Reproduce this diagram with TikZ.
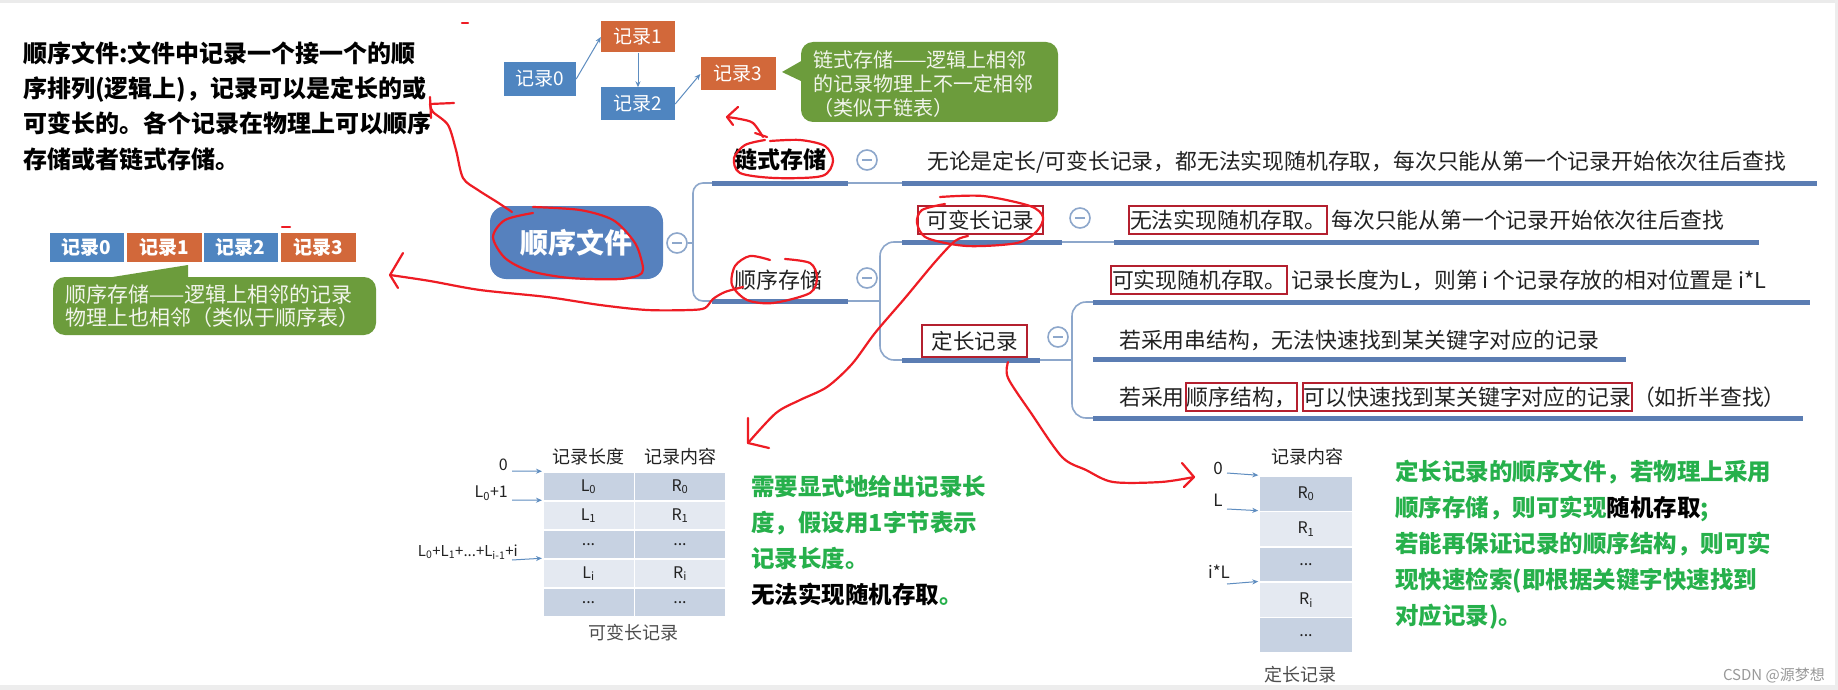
\documentclass[tikz,border=0pt]{standalone}
\usepackage{fontspec}
\setmainfont{Noto Sans CJK SC}
\usetikzlibrary{arrows.meta}
\definecolor{boxblue}{HTML}{4F85C0}
\definecolor{boxorange}{HTML}{D2683A}
\definecolor{cgreen}{HTML}{6C9C3C}
\definecolor{calltext}{HTML}{F2F5EC}
\definecolor{textgray}{HTML}{222222}
\definecolor{connblue}{HTML}{8DA7CB}
\definecolor{barblue}{HTML}{5B7DB3}
\definecolor{centerblue}{HTML}{5681BE}
\definecolor{arrowblue}{HTML}{5E8DC0}
\definecolor{boxred}{HTML}{B4202F}
\definecolor{penred}{HTML}{EE1C24}
\definecolor{tgreen}{HTML}{26B04B}
\definecolor{celldark}{HTML}{C7D2E2}
\definecolor{celllight}{HTML}{E4E9F1}
\newcommand\myfs[2]{\fontsize{#1}{#2}\selectfont}
\begin{document}
\begin{tikzpicture}[x=1pt,y=-1pt,
  recbox/.style={inner sep=0, text=white, font=\myfs{19}{19}},
  bluebox/.style={recbox, fill=boxblue},
  orangebox/.style={recbox, fill=boxorange},
  sarrow/.style={draw=arrowblue, line width=1pt, -{Stealth[length=6pt,width=5pt]}},
  bar/.style={draw=barblue, line width=5pt},
  conn/.style={draw=connblue, line width=1.6pt},
  collapse/.style={circle, draw=connblue, line width=1.6pt, fill=white, minimum size=20pt, inner sep=0,
    path picture={\draw[connblue, line width=1.6pt] ([xshift=-5pt]path picture bounding box.center) -- ([xshift=5pt]path picture bounding box.center);}},
  mmtext/.style={inner sep=0, anchor=west, font=\myfs{21.8}{21.8}, text=textgray},
  redbox/.style={draw=boxred, line width=2pt, inner xsep=1pt, inner ysep=4pt, anchor=west, font=\myfs{21.8}{21.8}, text=textgray},
  pen/.style={draw=penred, line width=2.2pt, line cap=round, line join=round},
  cell/.style={draw=white, line width=1.5pt, inner sep=0, font=\myfs{16}{16}, text=textgray},
  darkcell/.style={cell, fill=celldark},
  lightcell/.style={cell, fill=celllight},
  gtext/.style={anchor=west, inner sep=0, align=left, text=tgreen, font=\bfseries\myfs{23.5}{36}}
]
\useasboundingbox (0,0) rectangle (1838,690);
\fill[white] (0,0) rectangle (1838,690);
\fill[black!8] (0,0) rectangle (1838,3);
\fill[black!7] (0,685) rectangle (1838,690);
\fill[black!7] (1835,0) rectangle (1838,690);

% top-left description
\node[anchor=west, inner sep=0, align=left, font=\bfseries\myfs{24}{35.3}] (desc) at (23,106)
  {顺序文件:文件中记录一个接一个的顺\\序排列(逻辑上)，记录可以是定长的或\\可变长的。各个记录在物理上可以顺序\\存储或者链式存储。};

% linked storage example
\node[bluebox, minimum width=72pt, minimum height=34pt] (r0) at (540,79) {记录0};
\node[orangebox, minimum width=74pt, minimum height=31pt] (r1) at (638,37) {记录1};
\node[bluebox, minimum width=74pt, minimum height=33pt] (r2) at (638,104) {记录2};
\node[orangebox, minimum width=75pt, minimum height=33pt] (r3) at (738,74) {记录3};
\draw[sarrow] (r0.east) -- (r1.west);
\draw[sarrow] (r1.south) -- (r2.north);
\draw[sarrow] (r2.east) -- (r3.west);
\node[fill=cgreen, rounded corners=12pt, minimum width=257pt, minimum height=80pt, inner sep=0] (linkcall) at (929.5,82) {};
\fill[cgreen] (803,60) -- (782,72) -- (803,82) -- cycle;
\node[anchor=west, inner sep=0, align=left, text=calltext, font=\myfs{20}{24}] (linktext) at (813,84)
  {链式存储——逻辑上相邻\\的记录物理上不一定相邻\\（类似于链表）};

% sequential storage example
\node[bluebox, font=\bfseries\myfs{19}{19}, minimum width=74pt, minimum height=29pt] (s0) at (86.5,247.5) {记录0};
\node[orangebox, font=\bfseries\myfs{19}{19}, minimum width=75pt, minimum height=29pt] (s1) at (164,247.5) {记录1};
\node[bluebox, font=\bfseries\myfs{19}{19}, minimum width=74pt, minimum height=29pt] (s2) at (240.5,247.5) {记录2};
\node[orangebox, font=\bfseries\myfs{19}{19}, minimum width=75pt, minimum height=29pt] (s3) at (318,247.5) {记录3};
\node[fill=cgreen, rounded corners=12pt, minimum width=323pt, minimum height=58pt, inner sep=0] (seqcall) at (214.5,306) {};
\fill[cgreen] (100,279) -- (188,265) -- (188,279) -- cycle;
\node[anchor=west, inner sep=0, align=left, text=calltext, font=\myfs{21}{23}] (seqtext) at (65,306.5)
  {顺序存储——逻辑上相邻的记录\\物理上也相邻（类似于顺序表）};

% mind map
\node[fill=centerblue, rounded corners=16pt, minimum width=173pt, minimum height=73pt, inner sep=0, text=white, font=\bfseries\myfs{28}{28}] (root) at (576.5,242.5) {顺序文件};
\node[collapse] (c0) at (677,243) {};
\coordinate (br0) at (693,243);
\draw[conn] (c0.east) -- (br0);
\draw[conn, rounded corners=10pt] (712,183) -| (693,301) -- (712,301);

\node[inner sep=0, font=\bfseries\myfs{23}{23}] (lian) at (780,160) {链式存储};
\node[collapse] (c1) at (867,160) {};
\coordinate (b1s) at (712,183); \coordinate (b1e) at (848,183);
\coordinate (t1s) at (902,183); \coordinate (t1e) at (1817,183);
\draw[bar] (b1s) -- (b1e);
\draw[conn] (b1e) -- (t1s);
\draw[bar] (t1s) -- (t1e);
\node[mmtext] (t1) at (927,162) {无论是定长/可变长记录，都无法实现随机存取，每次只能从第一个记录开始依次往后查找};

\node[inner sep=0, font=\myfs{22}{22}, text=textgray] (shun) at (778,280) {顺序存储};
\node[collapse] (c2) at (867,278) {};
\coordinate (b2s) at (712,301); \coordinate (b2e) at (848,301); \coordinate (br2) at (880,301);
\draw[bar] (b2s) -- (b2e);
\draw[conn] (b2e) -- (br2);
\draw[conn, rounded corners=14pt] (902,242) -| (880,360) -- (902,360);

\node[redbox, anchor=center, minimum width=125pt, minimum height=26pt, font=\myfs{21.5}{21.5}] (kbian) at (980.5,220) {可变长记录};
\node[collapse] (c3) at (1080,218) {};
\coordinate (b3s) at (902,242); \coordinate (b3e) at (1062,242);
\coordinate (t2s) at (1114,242); \coordinate (t2e) at (1759,242);
\draw[bar] (b3s) -- (b3e);
\draw[conn] (b3e) -- (t2s);
\draw[bar] (t2s) -- (t2e);
\node[redbox] (t2a) at (1128,220) {无法实现随机存取。};
\node[mmtext] (t2b) at ([xshift=3pt]t2a.east) {每次只能从第一个记录开始依次往后查找};

\node[redbox, anchor=center, minimum width=105pt, minimum height=32pt, font=\myfs{21.5}{21.5}] (ding) at (974.5,341) {定长记录};
\node[collapse] (c4) at (1058,337) {};
\coordinate (b4s) at (902,360); \coordinate (b4e) at (1040,360); \coordinate (br4) at (1072,360);
\draw[bar] (b4s) -- (b4e);
\draw[conn] (b4e) -- (br4);
\draw[conn, rounded corners=14pt] (1093,302) -| (1072,418) -- (1093,418);
\draw[bar] (1093,302) -- (1810,302);
\draw[bar] (1093,359) -- (1626,359);
\draw[bar] (1093,418) -- (1803,418);
\node[redbox] (t3a) at (1110,280) {可实现随机存取。};
\node[mmtext] (t3b) at ([xshift=3pt]t3a.east) {记录长度为L，则第 i 个记录存放的相对位置是 i*L};
\node[mmtext] (t4) at (1119,340) {若采用串结构，无法快速找到某关键字对应的记录};
\node[mmtext] (t5a) at (1119,397) {若采用};
\node[redbox] (t5b) at (t5a.east) {顺序结构，};
\node[redbox] (t5c) at ([xshift=4pt]t5b.east) {可以快速找到某关键字对应的记录};
\node[mmtext] (t5d) at (t5c.east) {（如折半查找）};

% variable length table
\node[inner sep=0, font=\myfs{18}{18}, text=textgray] (hL) at (588,457) {记录长度};
\node[inner sep=0, font=\myfs{18}{18}, text=textgray] (hR) at (680,457) {记录内容};
\begin{scope}[every node/.append style={minimum width=91.5pt, minimum height=29pt}]
\node[darkcell] (L0) at (588.5,486.5) {L\textsubscript{0}};
\node[darkcell] (R0) at (680,486.5) {R\textsubscript{0}};
\node[lightcell] (L1) at (588.5,515.5) {L\textsubscript{1}};
\node[lightcell] (R1) at (680,515.5) {R\textsubscript{1}};
\node[darkcell] (L2) at (588.5,544.5) {...};
\node[darkcell] (R2) at (680,544.5) {...};
\node[lightcell] (Li) at (588.5,573.5) {L\textsubscript{i}};
\node[lightcell] (Ri) at (680,573.5) {R\textsubscript{i}};
\node[darkcell] (L4) at (588.5,602.5) {...};
\node[darkcell] (R4) at (680,602.5) {...};
\end{scope}
\node[anchor=east, inner sep=0, font=\myfs{16}{16}, text=textgray] (la0) at (508,465) {0};
\node[anchor=east, inner sep=0, font=\myfs{16}{16}, text=textgray] (la1) at (508,493) {L\textsubscript{0}+1};
\node[anchor=east, inner sep=0, font=\myfs{15}{15}, text=textgray] (la2) at (518,552) {L\textsubscript{0}+L\textsubscript{1}+...+L\textsubscript{i-1}+i};
\coordinate (aL0) at (512,471); \coordinate (aL1) at (512,500); \coordinate (aL2) at (512,560);
\draw[sarrow] (aL0) -- (L0.north west);
\draw[sarrow] (aL1) -- (L1.north west);
\draw[sarrow] (aL2) -- (Li.north west);
\node[inner sep=0, font=\myfs{18}{18}, text=textgray!80] (capL) at (633,633) {可变长记录};

% fixed length table
\node[inner sep=0, font=\myfs{18}{18}, text=textgray] (hF) at (1307,457) {记录内容};
\begin{scope}[every node/.append style={minimum width=94pt, minimum height=35.4pt}]
\node[darkcell] (F0) at (1306,493.7) {R\textsubscript{0}};
\node[lightcell] (F1) at (1306,529.1) {R\textsubscript{1}};
\node[darkcell] (F2) at (1306,564.5) {...};
\node[lightcell] (Fi) at (1306,599.9) {R\textsubscript{i}};
\node[darkcell] (F4) at (1306,635.3) {...};
\end{scope}
\node[inner sep=0, font=\myfs{17}{17}, text=textgray] (lf0) at (1218,468) {0};
\node[inner sep=0, font=\myfs{17}{17}, text=textgray] (lf1) at (1218,500) {L};
\node[inner sep=0, font=\myfs{17}{17}, text=textgray] (lf2) at (1219,572) {i*L};
\coordinate (aF0) at (1227,473); \coordinate (aF1) at (1227,509); \coordinate (aF2) at (1227,584);
\draw[sarrow] (aF0) -- (F0.north west);
\draw[sarrow] (aF1) -- (F1.north west);
\draw[sarrow] (aF2) -- (Fi.north west);
\node[inner sep=0, font=\myfs{18}{18}, text=textgray!80] (capF) at (1300,675) {定长记录};

% green notes
\node[gtext] (gmid) at (751,541) {需要显式地给出记录长\\度，假设用1字节表示\\记录长度。\\\textcolor{black}{无法实现随机存取}。};
\node[gtext] (gright) at (1395,545) {定长记录的顺序文件，若物理上采用\\顺序存储，则可实现\textcolor{black}{随机存取};\\若能再保证记录的顺序结构，则可实\\现快速检索(即根据关键字快速找到\\对应记录)。};

\node[anchor=east, inner sep=0, text=black!40, font=\myfs{15}{15}] (wm) at (1825,675) {CSDN @源梦想};

% red pen annotations
\draw[pen] plot[smooth] coordinates {(512,212) (497,202) (478,190) (463,178) (456,150) (448,125) (433,112) (430,104)};
\draw[pen] (430,104) -- (454,103);
\draw[pen] (430,97) -- (431,118);
\draw[pen] plot[smooth] coordinates {(533,213) (505,220) (493,237) (505,258) (530,271) (570,278) (620,279) (642,273) (640,255) (633,240) (613,220) (580,210) (533,207)};
\draw[pen] plot[smooth] coordinates {(770,260) (750,256) (735,266) (732,285) (747,300) (773,303) (810,293) (817,277) (810,263) (785,259)};
\draw[pen] plot[smooth] coordinates {(743,287) (725,292) (713,299) (705,308) (690,310) (647,310) (600,305) (547,297) (480,290) (430,281) (390,275)};
\draw[pen] (403,253) -- (390,275) -- (398,288);
\draw[pen] plot[smooth] coordinates {(765,140) (745,145) (734,158) (740,173) (775,178) (822,176) (833,161) (825,146) (800,140) (770,141)};
\draw[pen] plot[smooth] coordinates {(763,137) (753,123) (740,119) (727,117)};
\draw[pen] (738,107) -- (727,117) -- (733,125);
\draw[pen] (755,133) -- (767,137);
\draw[pen] plot[smooth] coordinates {(940,197) (983,196) (1030,206) (1043,217) (1037,231) (1017,243) (967,246) (927,238) (917,223) (922,210) (945,204)};
\draw[pen] plot[smooth] coordinates {(968,236) (955,241) (935,262) (905,298) (875,333) (852,364) (827,387) (800,400) (776,413) (748,443)};
\draw[pen] (748,418) -- (748,443) -- (769,448);
\draw[pen] plot[smooth] coordinates {(1008,362) (1008,378) (1031,413) (1062,457) (1086,470) (1113,482) (1161,482) (1194,477)};
\draw[pen] (1182,463) -- (1194,477) -- (1184,487);
\draw[pen] (462,23) -- (468,23);
\draw[pen] (282,227) -- (290,227);
\end{tikzpicture}
\end{document}
